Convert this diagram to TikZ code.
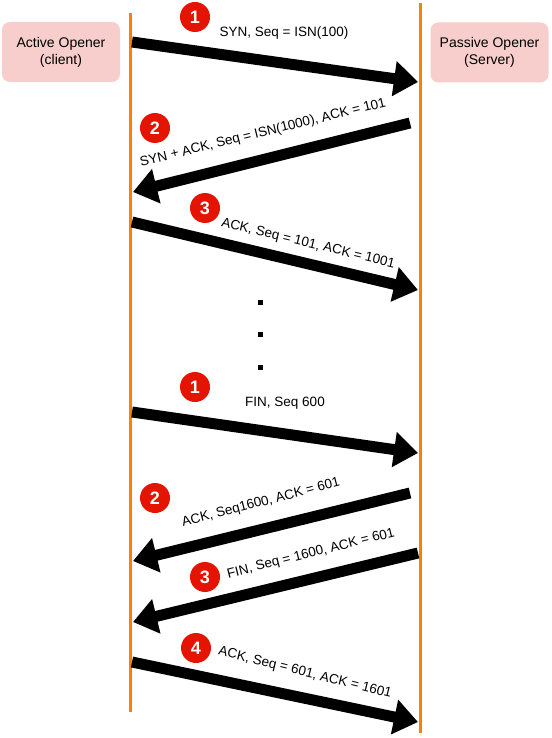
\documentclass[tikz,border=0pt]{standalone}
\usepackage{fontspec}
\setmainfont{Liberation Sans}
\usetikzlibrary{arrows.meta}
\definecolor{lifeorange}{HTML}{FF8000}
\definecolor{boxpink}{HTML}{F8CECC}
\definecolor{stepred}{HTML}{E51400}
\begin{document}
\begin{tikzpicture}[x=1pt,y=-1pt,
  lifeline/.style={draw=lifeorange,line width=3pt},
  actor/.style={fill=boxpink,rounded corners=8pt,minimum width=118pt,minimum height=60pt,align=center,font=\fontsize{14}{17}\selectfont},
  msg/.style={line width=11pt,-{Triangle[length=24pt,width=34pt]}},
  lbl/.style={font=\fontsize{13.5}{16}\selectfont,inner sep=0pt},
  num/.style={circle,fill=stepred,text=white,minimum size=30pt,inner sep=0pt,font=\fontsize{18}{18}\selectfont\bfseries},
  dotmark/.style={fill=black,minimum size=5pt,inner sep=0pt}]
  \useasboundingbox (0,0) rectangle (551,738);
  \node[actor] (client) at (61,52) {Active Opener\\(client)};
  \node[actor] (server) at (489.5,52.5) {Passive Opener\\(Server)};
  \coordinate (ctop) at (130,13);
  \coordinate (cbot) at (130,712);
  \coordinate (stop) at (420,3);
  \coordinate (sbot) at (420,733);
  \draw[lifeline] (ctop) -- (cbot);
  \draw[lifeline] (stop) -- (sbot);
  \coordinate (m1a) at (132,42);
  \coordinate (m1b) at (418,82);
  \coordinate (m2a) at (410,123);
  \coordinate (m2b) at (133,192);
  \coordinate (m3a) at (132,222);
  \coordinate (m3b) at (418,290);
  \coordinate (m4a) at (132,412);
  \coordinate (m4b) at (418,453);
  \coordinate (m5a) at (410,493);
  \coordinate (m5b) at (133,561);
  \coordinate (m6a) at (418,553);
  \coordinate (m6b) at (133,622);
  \coordinate (m7a) at (132,662);
  \coordinate (m7b) at (418,722);
  \draw[msg] (m1a) -- (m1b);
  \draw[msg] (m2a) -- (m2b);
  \draw[msg] (m3a) -- (m3b);
  \draw[msg] (m4a) -- (m4b);
  \draw[msg] (m5a) -- (m5b);
  \draw[msg] (m6a) -- (m6b);
  \draw[msg] (m7a) -- (m7b);
  \node[lbl] (l1) at (284,33) {SYN, Seq = ISN(100)};
  \node[lbl,rotate=13.7] (l2) at (263,133) {SYN + ACK, Seq = ISN(1000), ACK = 101};
  \node[lbl,rotate=-13.5] (l3) at (308,244) {ACK, Seq = 101, ACK = 1001};
  \node[lbl] (l4) at (285,403) {FIN, Seq 600};
  \node[lbl,rotate=14.5] (l5) at (261,503) {ACK, Seq1600, ACK = 601};
  \node[lbl,rotate=14] (l6) at (311,554) {FIN, Seq = 1600, ACK = 601};
  \node[lbl,rotate=-14] (l7) at (305,673) {ACK, Seq = 601, ACK = 1601};
  \node[num] (n1) at (195,17) {1};
  \node[num] (n2) at (155,128) {2};
  \node[num] (n3) at (205,208) {3};
  \node[num] (n4) at (195,387) {1};
  \node[num] (n5) at (155,498) {2};
  \node[num] (n6) at (205,577) {3};
  \node[num] (n7) at (196,648) {4};
  \node[dotmark] (d1) at (260,302) {};
  \node[dotmark] (d2) at (260,334) {};
  \node[dotmark] (d3) at (260,367) {};
\end{tikzpicture}
\end{document}
